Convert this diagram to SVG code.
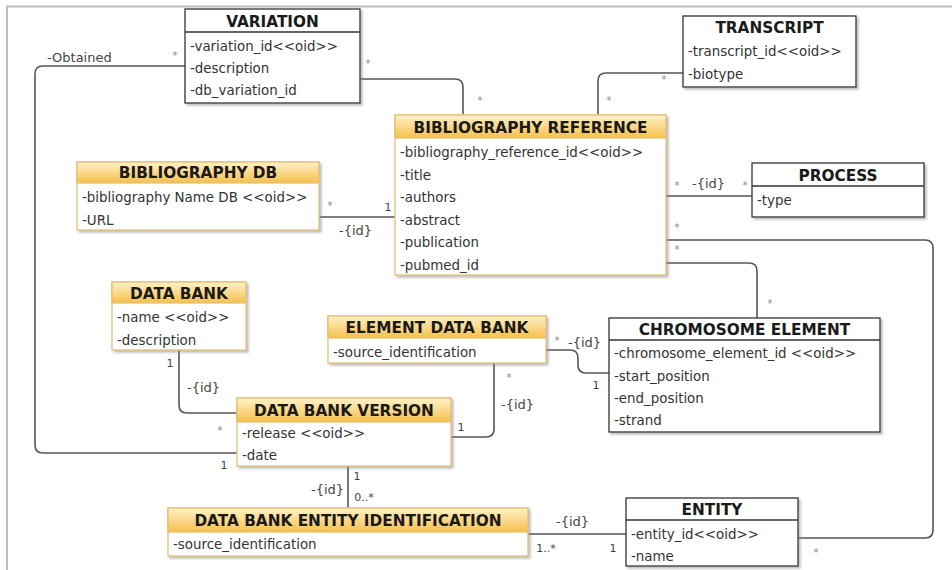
<svg xmlns="http://www.w3.org/2000/svg" width="952" height="570" viewBox="0 0 952 570">
  <defs>
    <linearGradient id="hdr" x1="0" y1="0" x2="0" y2="1">
      <stop offset="0" stop-color="#fff2c8"/>
      <stop offset="1" stop-color="#f6c04c"/>
    </linearGradient>
    <filter id="shadow" x="-5%" y="-5%" width="115%" height="125%">
      <feDropShadow dx="2" dy="2" stdDeviation="1.3" flood-color="#888" flood-opacity="0.55"/>
    </filter>
  </defs>
  <style>
    .frame { stroke: #bdbdbd; stroke-width: 2; fill: none; }
    .wbox { fill: #fff; stroke: #333; stroke-width: 1.3; filter: url(#shadow); }
    .wline { stroke: #333; stroke-width: 1.3; fill: none; }
    .ybox { fill: #fff; stroke: #e3c07a; stroke-width: 1.3; filter: url(#shadow); }
    .yhdr { fill: url(#hdr); stroke: #e3c07a; stroke-width: 1.3; }
    .title { font-family: "DejaVu Sans", Verdana, sans-serif; font-weight: bold; font-size: 15.3px; fill: #1a1a1a; text-anchor: middle; }
    .attr { font-family: "DejaVu Sans", Verdana, sans-serif; font-size: 13.4px; fill: #333; }
    .conn path { stroke: #555; stroke-width: 1.6; fill: none; }
    .lbl { font-family: "DejaVu Sans", Verdana, sans-serif; font-size: 13px; fill: #444; }
    .num { font-family: "DejaVu Sans", Verdana, sans-serif; font-size: 11px; fill: #444; text-anchor: middle; }
    .star { font-family: "DejaVu Sans", Verdana, sans-serif; font-size: 10px; fill: #8a8a8a; text-anchor: middle; }
  </style>

  <rect width="952" height="570" fill="#fff"/>
  <path class="frame" d="M7,570 V6.5 H952"/>

  <!-- associations -->
  <g id="connectors" class="conn">
    <path d="M185,66 H43 Q35,66 35,74 V445 Q35,453 43,453 H237"/>
    <path d="M360,79 H455 Q463,79 463,87 V115"/>
    <path d="M598,115 V81 Q598,73 606,73 H683"/>
    <path d="M319,217 H395"/>
    <path d="M666,196 H752"/>
    <path d="M666,240 H925 Q933,240 933,248 V530 Q933,538 925,538 H798"/>
    <path d="M666,263 H749 Q757,263 757,271 V318"/>
    <path d="M546,350 H570 Q578,350 578,358 V365 Q578,373 586,373 H609"/>
    <path d="M494,363 V429 Q494,437 486,437 H451"/>
    <path d="M179,350 V405 Q179,413 187,413 H237"/>
    <path d="M348,466 V508"/>
    <path d="M528,534 H626"/>
  </g>

  <!-- association labels and multiplicities -->
  <g id="labels">
    <text class="lbl" x="47" y="62">-Obtained</text>
    <text class="star" x="175" y="59">*</text>
    <text class="num" x="224" y="469">1</text>

    <text class="star" x="368" y="67">*</text>
    <text class="star" x="480" y="104">*</text>

    <text class="star" x="664" y="83">*</text>
    <text class="star" x="609" y="104">*</text>

    <text class="star" x="330" y="209">*</text>
    <text class="num" x="388" y="211">1</text>
    <text class="lbl" x="339" y="235">-{id}</text>

    <text class="star" x="677" y="189">*</text>
    <text class="lbl" x="692" y="188">-{id}</text>
    <text class="star" x="745" y="189">*</text>

    <text class="star" x="677" y="231">*</text>
    <text class="star" x="816" y="556">*</text>

    <text class="star" x="677" y="253">*</text>
    <text class="star" x="770" y="307">*</text>

    <text class="star" x="557" y="344">*</text>
    <text class="lbl" x="568" y="347">-{id}</text>
    <text class="num" x="596" y="389">1</text>

    <text class="star" x="509" y="381">*</text>
    <text class="lbl" x="501" y="409">-{id}</text>
    <text class="num" x="461" y="431">1</text>

    <text class="num" x="170" y="367">1</text>
    <text class="lbl" x="187" y="392">-{id}</text>
    <text class="star" x="220" y="434">*</text>

    <text class="num" x="357" y="480">1</text>
    <text class="lbl" x="311" y="494">-{id}</text>
    <text class="num" x="364" y="501">0..*</text>

    <text class="lbl" x="556" y="526">-{id}</text>
    <text class="num" x="546" y="552">1..*</text>
    <text class="num" x="613" y="552">1</text>
  </g>

  <!-- classes -->
  <g id="variation">
    <rect class="wbox" x="185" y="9" width="175" height="94"/>
    <path class="wline" d="M185,32 H360"/>
    <text class="title" x="272.5" y="26.5">VARIATION</text>
    <text class="attr" x="190" y="50.5">-variation_id&lt;&lt;oid&gt;&gt;</text>
    <text class="attr" x="190" y="72.5">-description</text>
    <text class="attr" x="190" y="94.5">-db_variation_id</text>
  </g>

  <g id="transcript">
    <rect class="wbox" x="683" y="16" width="173" height="71"/>
    <text class="title" x="769.5" y="33">TRANSCRIPT</text>
    <text class="attr" x="688" y="56">-transcript_id&lt;&lt;oid&gt;&gt;</text>
    <text class="attr" x="688" y="78.5">-biotype</text>
  </g>

  <g id="bibliography-reference">
    <rect class="ybox" x="395" y="115" width="271" height="160"/>
    <rect class="yhdr" x="395" y="115" width="271" height="23"/>
    <text class="title" x="530.5" y="132.5">BIBLIOGRAPHY REFERENCE</text>
    <text class="attr" x="400" y="157">-bibliography_reference_id&lt;&lt;oid&gt;&gt;</text>
    <text class="attr" x="400" y="179.5">-title</text>
    <text class="attr" x="400" y="201.5">-authors</text>
    <text class="attr" x="400" y="224.5">-abstract</text>
    <text class="attr" x="400" y="246.5">-publication</text>
    <text class="attr" x="400" y="269.5">-pubmed_id</text>
  </g>

  <g id="bibliography-db">
    <rect class="ybox" x="77" y="162" width="242" height="68"/>
    <rect class="yhdr" x="77" y="162" width="242" height="21"/>
    <text class="title" x="198" y="178">BIBLIOGRAPHY DB</text>
    <text class="attr" x="82" y="201.5">-bibliography Name DB &lt;&lt;oid&gt;&gt;</text>
    <text class="attr" x="82" y="224.5">-URL</text>
  </g>

  <g id="process">
    <rect class="wbox" x="752" y="163" width="172" height="54"/>
    <path class="wline" d="M752,186 H924"/>
    <text class="title" x="838" y="180.5">PROCESS</text>
    <text class="attr" x="757" y="204.5">-type</text>
  </g>

  <g id="data-bank">
    <rect class="ybox" x="112" y="282" width="134" height="68"/>
    <rect class="yhdr" x="112" y="282" width="134" height="21"/>
    <text class="title" x="179" y="298.5">DATA BANK</text>
    <text class="attr" x="117" y="321.5">-name &lt;&lt;oid&gt;&gt;</text>
    <text class="attr" x="117" y="344.5">-description</text>
  </g>

  <g id="element-data-bank">
    <rect class="ybox" x="328" y="316" width="218" height="47"/>
    <rect class="yhdr" x="328" y="316" width="218" height="22"/>
    <text class="title" x="437" y="332.5">ELEMENT DATA BANK</text>
    <text class="attr" x="333" y="356.5">-source_identification</text>
  </g>

  <g id="chromosome-element">
    <rect class="wbox" x="609" y="318" width="271" height="114"/>
    <path class="wline" d="M609,340 H880"/>
    <text class="title" x="744.5" y="334.5">CHROMOSOME ELEMENT</text>
    <text class="attr" x="614" y="357.5">-chromosome_element_id &lt;&lt;oid&gt;&gt;</text>
    <text class="attr" x="614" y="380.5">-start_position</text>
    <text class="attr" x="614" y="402.5">-end_position</text>
    <text class="attr" x="614" y="424.5">-strand</text>
  </g>

  <g id="data-bank-version">
    <rect class="ybox" x="237" y="398" width="214" height="68"/>
    <rect class="yhdr" x="237" y="398" width="214" height="24"/>
    <text class="title" x="344" y="415.5">DATA BANK VERSION</text>
    <text class="attr" x="242" y="437.5">-release &lt;&lt;oid&gt;&gt;</text>
    <text class="attr" x="242" y="459.5">-date</text>
  </g>

  <g id="data-bank-entity-identification">
    <rect class="ybox" x="168" y="508" width="360" height="48"/>
    <rect class="yhdr" x="168" y="508" width="360" height="24"/>
    <text class="title" x="348" y="525.5">DATA BANK ENTITY IDENTIFICATION</text>
    <text class="attr" x="173" y="548.5">-source_identification</text>
  </g>

  <g id="entity">
    <rect class="wbox" x="626" y="498" width="172" height="68"/>
    <path class="wline" d="M626,520 H798"/>
    <text class="title" x="712" y="514.5">ENTITY</text>
    <text class="attr" x="631" y="538.5">-entity_id&lt;&lt;oid&gt;&gt;</text>
    <text class="attr" x="631" y="560.5">-name</text>
  </g>
</svg>
